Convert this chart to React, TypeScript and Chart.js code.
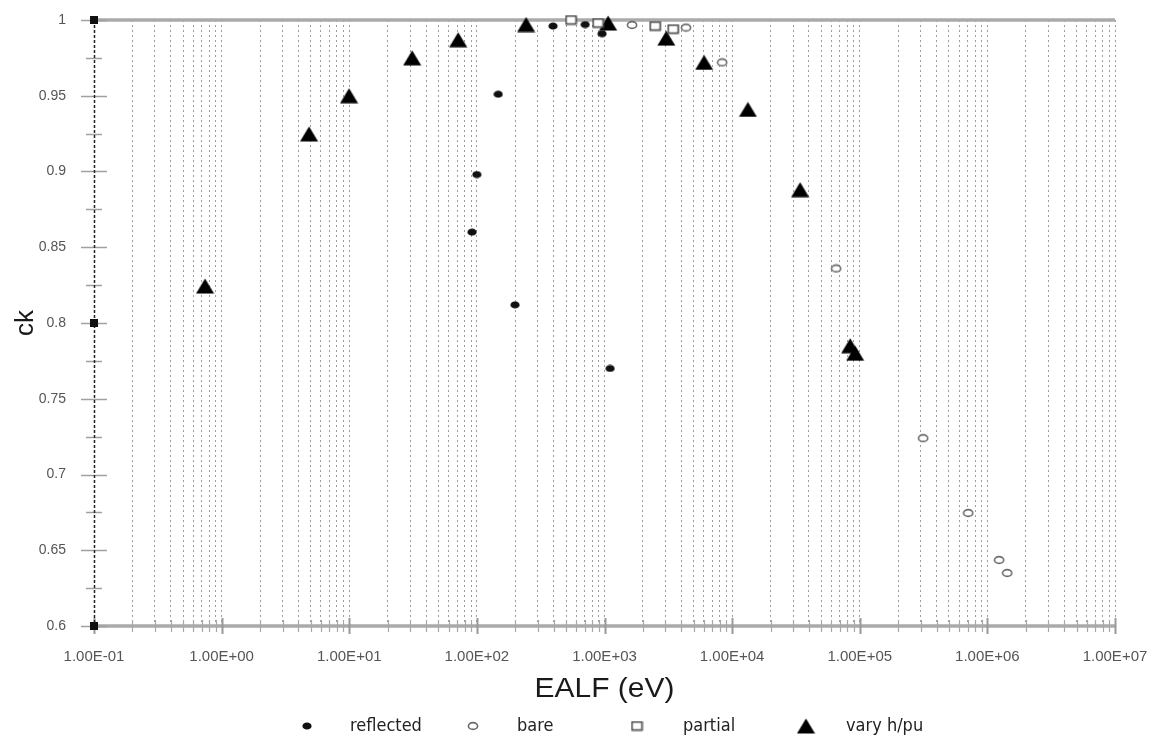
import React, { useEffect, useRef } from "react";
import { Chart, registerables } from "chart.js";

Chart.register(...registerables);

// ---------- data ----------
const reflectedX = [395, 147, 100, 91.6, 199, 1106, 705, 957];
const reflectedY = [0.996, 0.951, 0.898, 0.86, 0.812, 0.77, 0.997, 0.991];

const bareX = [1644, 4355, 8350, 65300, 314000, 708000, 1236000, 1430000];
const bareY = [0.9967, 0.995, 0.972, 0.836, 0.724, 0.6746, 0.6436, 0.635];

const partialX = [547, 891, 2494, 3450];
const partialY = [1.0, 0.998, 0.996, 0.994];

const varyX = [0.741, 4.84, 9.96, 31.1, 71.3, 243, 1067, 3050, 6030, 13300, 34100, 84100, 92000];
const varyY = [0.8244, 0.9248, 0.95, 0.975, 0.987, 0.997, 0.998, 0.988, 0.972, 0.941, 0.888, 0.785, 0.78];

const axisMarkX = [0.1, 0.1, 0.1];
const axisMarkY = [1, 0.8, 0.6];

const xDecades = [0.1, 1, 10, 100, 1000, 10000, 100000, 1000000, 10000000];
const xMinorMultipliers = [2, 3, 4, 5, 6, 7, 8, 9];
const yTickValues = [0.6, 0.65, 0.7, 0.75, 0.8, 0.85, 0.9, 0.95, 1];

const seriesLabels = ["reflected", "bare", "partial", "vary h/pu"];
const xTitle = "EALF (eV)";
const yTitle = "ck";

// ---------- helpers ----------
const pts = (xs: number[], ys: number[]) => xs.map((x, i) => ({ x, y: ys[i] }));

function isDecade(v: number) {
  const l = Math.log10(v);
  return Math.abs(l - Math.round(l)) < 1e-9;
}
function fmtSci(v: number) {
  const e = Math.round(Math.log10(v));
  const m = v / Math.pow(10, e);
  const sign = e < 0 ? "-" : "+";
  const a = Math.abs(e);
  return m.toFixed(2) + "E" + sign + (a < 10 ? "0" + a : String(a));
}

function makeMarker(w: number, h: number, draw: (c: CanvasRenderingContext2D) => void) {
  const c = document.createElement("canvas");
  c.width = w;
  c.height = h;
  const ctx = c.getContext("2d")!;
  draw(ctx);
  return c;
}

export default function App() {
  const ref = useRef<HTMLCanvasElement | null>(null);

  useEffect(() => {
    const dot = makeMarker(10, 8, (c) => {
      c.fillStyle = "#111";
      c.beginPath();
      c.ellipse(5, 4, 4.6, 3.6, 0, 0, Math.PI * 2);
      c.fill();
    });
    const ring = makeMarker(12, 10, (c) => {
      c.fillStyle = "#fff";
      c.strokeStyle = "#6a6a6a";
      c.lineWidth = 1.6;
      c.beginPath();
      c.ellipse(6, 5, 4.6, 3.4, 0, 0, Math.PI * 2);
      c.fill();
      c.stroke();
    });
    const square = makeMarker(13, 11, (c) => {
      c.fillStyle = "#fff";
      c.strokeStyle = "#4a4a4a";
      c.lineWidth = 1.6;
      c.fillRect(1.5, 1.5, 10, 8);
      c.strokeRect(1.5, 1.5, 10, 8);
    });
    const tri = makeMarker(19, 16, (c) => {
      c.fillStyle = "#000";
      c.beginPath();
      c.moveTo(9.5, 0.5);
      c.lineTo(18.5, 15.5);
      c.lineTo(0.5, 15.5);
      c.closePath();
      c.fill();
    });
    const axisSq = makeMarker(8, 8, (c) => {
      c.fillStyle = "#111";
      c.fillRect(0, 0, 8, 8);
    });

    const xTickValues: number[] = [];
    xDecades.forEach((d, i) => {
      xTickValues.push(d);
      if (i < xDecades.length - 1) xMinorMultipliers.forEach((m) => xTickValues.push(d * m));
    });

    const decor = {
      id: "decor",
      beforeDatasetsDraw(chart: any) {
        const { ctx, chartArea: a, scales } = chart;
        const x = scales.x;
        const y = scales.y;
        const line = (x1: number, y1: number, x2: number, y2: number) => {
          ctx.beginPath();
          ctx.moveTo(x1, y1);
          ctx.lineTo(x2, y2);
          ctx.stroke();
        };
        ctx.save();
        ctx.setLineDash([]);
        ctx.strokeStyle = "#aaaaaa";
        ctx.lineWidth = 3.5;
        line(a.left, a.top, a.right, a.top);
        line(a.left, a.bottom, a.right, a.bottom);
        xTickValues.forEach((v) => {
          const px = Math.round(x.getPixelForValue(v)) + 0.5;
          const major = isDecade(v);
          ctx.strokeStyle = major ? "#999" : "#a8a8a8";
          ctx.lineWidth = major ? 2 : 1.2;
          const h = major ? 8 : 6;
          line(px, a.bottom - h, px, a.bottom + h);
        });
        ctx.strokeStyle = "#a0a0a0";
        ctx.lineWidth = 1.5;
        yTickValues.forEach((v, i) => {
          const py = Math.round(y.getPixelForValue(v)) + 0.5;
          line(a.left - 13, py, a.left + 13, py);
          if (i < yTickValues.length - 1) {
            const mid = (v + yTickValues[i + 1]) / 2;
            const pm = Math.round(y.getPixelForValue(mid)) + 0.5;
            line(a.left - 8, pm, a.left + 8, pm);
          }
        });
        ctx.strokeStyle = "#222";
        ctx.lineWidth = 1.5;
        ctx.setLineDash([3, 2]);
        line(a.left + 0.5, a.top, a.left + 0.5, a.bottom);
        ctx.restore();
      },
      afterDraw(chart: any) {
        const { ctx, chartArea: a } = chart;
        ctx.save();
        ctx.fillStyle = "#1a1a1a";
        ctx.font = '26px "Liberation Sans", Arial, sans-serif';
        ctx.textAlign = "center";
        ctx.textBaseline = "middle";
        ctx.translate(26, (a.top + a.bottom) / 2);
        ctx.rotate(-Math.PI / 2);
        ctx.fillText(yTitle, 0, 0);
        ctx.restore();

        ctx.save();
        ctx.fillStyle = "#1a1a1a";
        ctx.font = '28px "Liberation Sans", Arial, sans-serif';
        ctx.textAlign = "center";
        ctx.textBaseline = "middle";
        ctx.translate((a.left + a.right) / 2, 689);
        ctx.scale(1.07, 1);
        ctx.fillText(xTitle, 0, 0);
        ctx.restore();

        ctx.save();
        const ly = 726;
        const markers = [dot, ring, square, tri];
        const markerX = [307, 473, 637, 806];
        const textX = [350, 517, 683, 846];
        ctx.font = '18px "DejaVu Sans Condensed", "DejaVu Sans", sans-serif';
        ctx.fillStyle = "#222";
        ctx.textAlign = "left";
        ctx.textBaseline = "middle";
        seriesLabels.forEach((lab, i) => {
          const m = markers[i];
          ctx.drawImage(m, markerX[i] - m.width / 2, ly - m.height / 2);
          ctx.fillText(lab, textX[i], ly);
        });
        ctx.restore();
      },
    };

    const chart = new Chart(ref.current!, {
      type: "scatter",
      data: {
        datasets: [
          { label: "axis", data: pts(axisMarkX, axisMarkY), pointStyle: axisSq as any, pointRadius: 4, clip: false },
          { label: seriesLabels[1], data: pts(bareX, bareY), pointStyle: ring as any, pointRadius: 5, clip: false },
          { label: seriesLabels[2], data: pts(partialX, partialY), pointStyle: square as any, pointRadius: 5, clip: false },
          { label: seriesLabels[0], data: pts(reflectedX, reflectedY), pointStyle: dot as any, pointRadius: 5, clip: false },
          { label: seriesLabels[3], data: pts(varyX, varyY), pointStyle: tri as any, pointRadius: 8, clip: false },
        ],
      },
      options: {
        responsive: false,
        animation: false,
        devicePixelRatio: 1,
        layout: { padding: { top: 20, right: 34, left: 0, bottom: 0 } },
        plugins: { legend: { display: false }, tooltip: { enabled: false } },
        scales: {
          x: {
            type: "logarithmic",
            min: 0.1,
            max: 1e7,
            afterBuildTicks: (s: any) => {
              s.ticks = xTickValues.map((v) => ({ value: v }));
            },
            afterFit: (s: any) => {
              s.height = 112;
              s.paddingLeft = 0;
              s.paddingRight = 0;
              s.paddingTop = 0;
              s.paddingBottom = 0;
            },
            ticks: {
              autoSkip: false,
              maxRotation: 0,
              minRotation: 0,
              padding: 22,
              color: "#555",
              font: { family: '"Liberation Sans", Arial, sans-serif', size: 15 },
              callback: (v: any) => (isDecade(Number(v)) ? fmtSci(Number(v)) : ""),
            },
            grid: { color: "#9c9c9c", lineWidth: 1, drawTicks: false },
            border: { display: false, dash: [2, 3] },
          },
          y: {
            min: 0.6,
            max: 1,
            afterBuildTicks: (s: any) => {
              s.ticks = yTickValues.map((v) => ({ value: v }));
            },
            afterFit: (s: any) => {
              s.width = 94;
              s.paddingLeft = 0;
              s.paddingRight = 0;
              s.paddingTop = 0;
              s.paddingBottom = 0;
            },
            ticks: {
              padding: 28,
              color: "#555",
              font: { family: '"Liberation Sans", Arial, sans-serif', size: 14 },
              callback: (v: any) => String(Number(Number(v).toFixed(2))),
            },
            grid: { display: false, drawTicks: false },
            border: { display: false },
          },
        },
      },
      plugins: [decor],
    } as any);

    return () => chart.destroy();
  }, []);

  return (
    <div style={{ position: "fixed", left: 0, top: 0, width: 1149, height: 738, background: "#fff" }}>
      <canvas ref={ref} width={1149} height={738} style={{ width: 1149, height: 738, display: "block" }} />
    </div>
  );
}
